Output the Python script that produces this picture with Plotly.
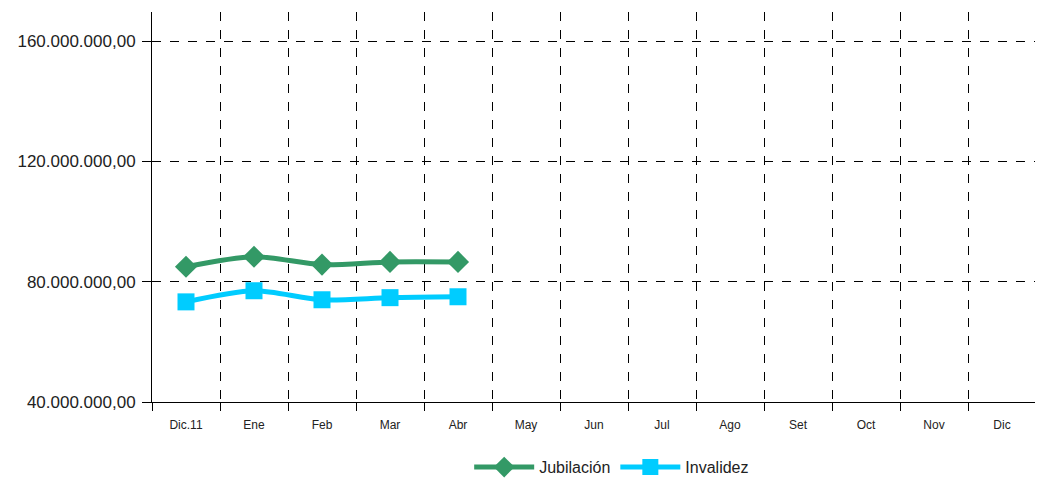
import plotly.graph_objects as go

months = ["Dic.11", "Ene", "Feb", "Mar", "Abr", "May", "Jun", "Jul", "Ago", "Set", "Oct", "Nov", "Dic"]
jub_months = ["Dic.11", "Ene", "Feb", "Mar", "Abr"]
jubilacion = [85_000_000, 88_300_000, 85_700_000, 86_600_000, 86_600_000]
invalidez = [73_300_000, 77_000_000, 74_000_000, 74_700_000, 75_000_000]

FONT = "Liberation Sans, Arial, sans-serif"

fig = go.Figure()
fig.add_trace(go.Scatter(
    x=jub_months, y=jubilacion, name="Jubilación", mode="lines+markers",
    line=dict(color="#339966", width=5, shape="spline", smoothing=0.8),
    marker=dict(symbol="diamond", size=17, color="#339966"),
))
fig.add_trace(go.Scatter(
    x=jub_months, y=invalidez, name="Invalidez", mode="lines+markers",
    line=dict(color="#00CCFF", width=5, shape="spline", smoothing=0.8),
    marker=dict(symbol="square", size=17, color="#00CCFF"),
))

# page body has an 8px default margin, so the figure is sized to fit the window
fig.update_layout(
    width=1035, height=471,
    margin=dict(l=144, r=7, t=4, b=77, autoexpand=False),
    paper_bgcolor="white", plot_bgcolor="white",
    separators=",.",
    font=dict(family=FONT, color="#222222"),
    showlegend=True,
    legend=dict(orientation="h", x=0.52, xanchor="center", y=-0.167, yanchor="middle",
                font=dict(size=16, family=FONT, color="#222222"), itemwidth=60,
                traceorder="normal"),
    xaxis=dict(
        type="category", categoryorder="array", categoryarray=months,
        range=[-0.5, 12.5], tickson="boundaries", automargin=False,
        showgrid=True, gridcolor="#000000", griddash="dash", gridwidth=1,
        showline=True, linecolor="#000000", linewidth=1,
        ticks="outside", ticklen=8, tickcolor="#000000",
        ticklabelstandoff=12,
        tickfont=dict(size=12, family=FONT, color="#222222"),
        zeroline=False,
    ),
    yaxis=dict(
        range=[40_000_000, 169_700_000], automargin=False,
        tickvals=[40_000_000, 80_000_000, 120_000_000, 160_000_000],
        tickformat=",.2f",
        showgrid=True, gridcolor="#000000", griddash="dash", gridwidth=1,
        showline=True, linecolor="#000000", linewidth=1,
        ticks="outside", ticklen=9, tickcolor="#000000",
        ticklabelstandoff=3,
        tickfont=dict(size=17, family=FONT, color="#222222"),
        zeroline=False,
    ),
)

fig.write_html("out.html")
